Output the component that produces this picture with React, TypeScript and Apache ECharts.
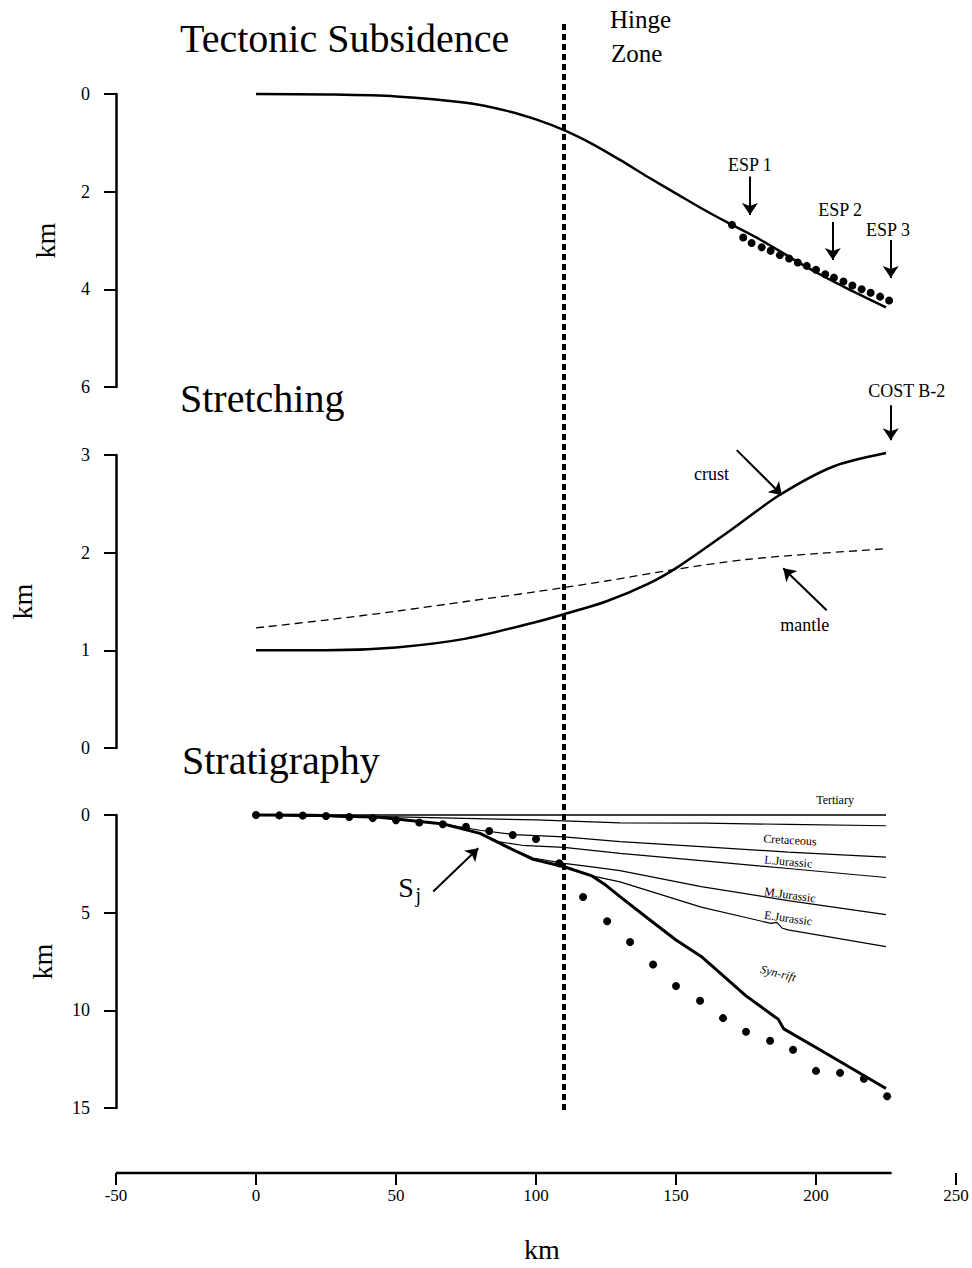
import React, { useEffect, useRef } from "react";
import * as echarts from "echarts";

const FONT = '"Liberation Serif", "Times New Roman", Times, serif';
const INK = "#000";

// ---- shared x axis (km) ----
const xMin = -50;
const xMax = 250;
const xStep = 50;
const xAxisLineExtent: [number, number] = [-50, 227];
const hingeZoneKm = 110;

// ---- Tectonic Subsidence (km) ----
const subsidenceX = [0, 25, 50, 75, 90, 100, 110, 120, 130, 140, 151, 160, 169, 180, 190, 200, 210, 225];
const subsidenceY = [0, 0.01, 0.05, 0.18, 0.35, 0.52, 0.74, 1.02, 1.35, 1.7, 2.07, 2.37, 2.65, 2.98, 3.32, 3.65, 3.95, 4.37];
const espWellX = [170, 174, 177, 180.6, 183.8, 187.1, 190.4, 193.5, 196.7, 200, 203.3, 206.4, 209.8, 213, 216.3, 219.5, 222.9, 226.1];
const espWellY = [2.68, 2.94, 3.05, 3.14, 3.21, 3.3, 3.37, 3.45, 3.52, 3.6, 3.69, 3.76, 3.84, 3.92, 4.0, 4.07, 4.15, 4.23];
const espArrows = [
  [[176.4, 1.69], [176.4, 2.48]],
  [[206, 2.62], [206, 3.4]],
  [[226.7, 2.99], [226.7, 3.77]],
];

// ---- Stretching ----
const crustX = [0, 25, 50, 75, 100, 110, 125, 140, 151, 170, 187, 206, 225];
const crustY = [1.0, 1.0, 1.03, 1.12, 1.29, 1.37, 1.5, 1.68, 1.86, 2.24, 2.59, 2.88, 3.02];
const mantleX = [0, 25, 50, 75, 100, 125, 150, 175, 200, 225];
const mantleY = [1.23, 1.31, 1.4, 1.5, 1.6, 1.71, 1.83, 1.93, 1.99, 2.04];
const stretchArrows = [
  [[226.7, 3.51], [226.7, 3.15]],
  [[171.7, 3.05], [187.8, 2.59]],
  [[203.8, 1.41], [188.3, 1.84]],
];

// ---- Stratigraphy (depth, km) ----
const seaFloor = [[0, 0], [225, 0]];
const tertiaryBase = [[0, 0], [50, 0.1], [100, 0.25], [130, 0.4], [160, 0.42], [190, 0.48], [225, 0.55]];
const cretaceousBase = [[0, 0], [44, 0.12], [67, 0.46], [80, 0.78], [92, 1.0], [110, 1.12], [130, 1.36], [159, 1.62], [190, 1.9], [225, 2.16]];
const lJurassicBase = [[0, 0], [44, 0.12], [67, 0.46], [80, 0.94], [87, 1.38], [95, 1.55], [110, 1.66], [130, 1.96], [159, 2.34], [190, 2.74], [225, 3.2]];
const mJurassicBase = [[0, 0], [44, 0.12], [67, 0.46], [80, 0.94], [89.5, 1.62], [99, 2.2], [110, 2.48], [120, 2.66], [130, 2.85], [159, 3.67], [190, 4.38], [225, 5.1]];
const eJurassicBase = [[0, 0], [44, 0.12], [67, 0.46], [80, 0.94], [89.5, 1.62], [99, 2.27], [110, 2.65], [120, 3.12], [130, 3.42], [159, 4.72], [184, 5.55], [186, 5.5], [188, 5.8], [190, 5.88], [225, 6.74]];
const synRiftBase = [[0, 0], [20, 0.01], [44, 0.12], [67, 0.46], [80, 0.94], [89.5, 1.62], [99, 2.27], [110, 2.65], [120, 3.12], [125, 3.6], [130, 4.18], [140, 5.3], [150, 6.4], [159, 7.24], [175, 9.26], [185, 10.3], [186.5, 10.45], [188.5, 10.95], [200, 11.9], [225, 14.0]];
const sjX = [0, 8.3, 16.7, 25, 33.3, 41.7, 50, 58.3, 66.7, 75, 83.3, 91.7, 100, 108.3, 116.8, 125.4, 133.6, 141.8, 150, 158.6, 166.8, 175, 183.6, 191.8, 200, 208.6, 217.1, 225.4];
const sjY = [0, 0.02, 0.03, 0.05, 0.1, 0.16, 0.27, 0.38, 0.47, 0.6, 0.82, 1.02, 1.23, 2.47, 4.2, 5.44, 6.5, 7.65, 8.75, 9.51, 10.4, 11.1, 11.56, 12.02, 13.1, 13.2, 13.5, 14.4];
const sjArrow = [[[63.3, 3.92], [79.4, 1.7]]];

// ---- axis ranges ----
const panelRanges = [
  { min: 0, max: 6, step: 2, inverse: true },
  { min: 0, max: 3, step: 1, inverse: false },
  { min: 0, max: 15, step: 5, inverse: true },
];

// ---- text ----
const panelTitles = ["Tectonic Subsidence", "Stretching", "Stratigraphy"];
const hingeLabel = ["Hinge", "Zone"];
const annotations = [
  { grid: 0, text: "ESP 1", x: 176.4, y: 1.45, size: 18, rot: 0, italic: false },
  { grid: 0, text: "ESP 2", x: 208.6, y: 2.38, size: 18, rot: 0, italic: false },
  { grid: 0, text: "ESP 3", x: 225.7, y: 2.79, size: 18, rot: 0, italic: false },
  { grid: 1, text: "COST B-2", x: 232.4, y: 3.66, size: 18, rot: 0, italic: false },
  { grid: 1, text: "crust", x: 162.7, y: 2.81, size: 18, rot: 0, italic: false },
  { grid: 1, text: "mantle", x: 196, y: 1.26, size: 18, rot: 0, italic: false },
  { grid: 2, text: "Tertiary", x: 206.8, y: -0.77, size: 12, rot: 0, italic: false },
  { grid: 2, text: "Cretaceous", x: 190.7, y: 1.28, size: 12, rot: -3, italic: false },
  { grid: 2, text: "L.Jurassic", x: 190.1, y: 2.39, size: 12, rot: -5, italic: false },
  { grid: 2, text: "M.Jurassic", x: 190.7, y: 4.09, size: 12, rot: -8, italic: false },
  { grid: 2, text: "E.Jurassic", x: 190.1, y: 5.28, size: 12, rot: -8, italic: false },
  { grid: 2, text: "Syn-rift", x: 186.5, y: 8.1, size: 12, rot: -14, italic: true },
  { grid: 2, text: "S", x: 53.6, y: 3.73, size: 28, rot: 0, italic: false },
  { grid: 2, text: "j", x: 58.0, y: 4.12, size: 20, rot: 0, italic: false },
];

const zip = (xs: number[], ys: number[]) => xs.map((x, i) => [x, ys[i]]);

export default function App() {
  const ref = useRef<HTMLDivElement>(null);

  useEffect(() => {
    document.body.style.margin = "0";
    if (!ref.current) return;
    const chart = echarts.init(ref.current, null, { renderer: "svg" });

    const grids = [
      { left: 116, right: 16, top: 94, height: 293 },
      { left: 116, right: 16, top: 455, height: 293 },
      { left: 116, right: 16, top: 815, height: 293 },
      { left: 116, right: 16, top: 1160, height: 13 },
      { left: 116, right: 16, top: 24, height: 1086 },
    ];

    const labelStyle = { color: INK, fontFamily: FONT, fontSize: 18 };
    const nameGaps = [57, 80, 60];

    const xAxes = grids.map((_, i) => ({
      type: "value",
      gridIndex: i,
      min: xMin,
      max: xMax,
      interval: xStep,
      show: i === 3,
      axisLine: { show: false, onZero: false },
      axisTick: { show: true, inside: false, length: 12, lineStyle: { color: INK, width: 2 } },
      axisLabel: { margin: 14, color: INK, fontFamily: FONT, fontSize: 17 },
      splitLine: { show: false },
      name: i === 3 ? "km" : "",
      nameLocation: "middle",
      nameGap: 62,
      nameTextStyle: { color: INK, fontFamily: FONT, fontSize: 28, padding: [0, 0, 0, 12] },
    }));

    const yAxes: any[] = panelRanges.map((r, i) => ({
      type: "value",
      gridIndex: i,
      min: r.min,
      max: r.max,
      interval: r.step,
      inverse: r.inverse,
      axisLine: { show: true, onZero: false, lineStyle: { color: INK, width: 2.5 } },
      axisTick: { show: true, inside: false, length: 12, lineStyle: { color: INK, width: 2 } },
      axisLabel: { margin: 26, ...labelStyle },
      splitLine: { show: false },
      name: "km",
      nameLocation: "middle",
      nameGap: nameGaps[i],
      nameTextStyle: { color: INK, fontFamily: FONT, fontSize: 28 },
    }));
    yAxes.push({ type: "value", gridIndex: 3, min: 0, max: 1, show: false });
    yAxes.push({ type: "value", gridIndex: 4, min: 0, max: 1, show: false });

    const line = (g: number, data: number[][], width: number, extra: any = {}) => ({
      type: "line",
      xAxisIndex: g,
      yAxisIndex: g,
      data,
      showSymbol: false,
      symbol: "none",
      silent: true,
      clip: false,
      lineStyle: { color: INK, width, ...(extra.lineStyle || {}) },
      smooth: extra.smooth ?? false,
    });
    const dots = (g: number, data: number[][], size: number) => ({
      type: "scatter",
      xAxisIndex: g,
      yAxisIndex: g,
      data,
      symbol: "circle",
      symbolSize: size,
      itemStyle: { color: INK, opacity: 1 },
      silent: true,
      clip: false,
    });
    const arrows = (g: number, segs: number[][][]) => ({
      type: "lines",
      coordinateSystem: "cartesian2d",
      xAxisIndex: g,
      yAxisIndex: g,
      clip: false,
      data: segs.map((c) => ({ coords: c })),
      symbol: ["none", "arrow"],
      symbolSize: 12,
      lineStyle: { color: INK, width: 2, opacity: 1, curveness: 0 },
      silent: true,
    });

    const series: any[] = [
      line(0, zip(subsidenceX, subsidenceY), 2.5, { smooth: 0.3 }),
      dots(0, zip(espWellX, espWellY), 8),
      arrows(0, espArrows),
      line(1, zip(crustX, crustY), 2.5, { smooth: 0.3 }),
      line(1, zip(mantleX, mantleY), 1.3, { smooth: 0.3, lineStyle: { type: [8, 5] } }),
      arrows(1, stretchArrows),
      line(2, seaFloor, 1.3),
      line(2, tertiaryBase, 1.2),
      line(2, cretaceousBase, 1.2),
      line(2, lJurassicBase, 1.2),
      line(2, mJurassicBase, 1.2),
      line(2, eJurassicBase, 1.2),
      line(2, synRiftBase, 3),
      dots(2, zip(sjX, sjY), 8),
      arrows(2, sjArrow),
      line(3, [[xAxisLineExtent[0], 0], [xAxisLineExtent[1], 0]], 2.5),
      line(4, [[hingeZoneKm, 0], [hingeZoneKm, 1]], 4, { lineStyle: { type: [6, 4] } }),
    ];

    chart.setOption({
      animation: false,
      backgroundColor: "#fff",
      grid: grids,
      xAxis: xAxes,
      yAxis: yAxes,
      series,
    });

    const txt = (text: string, x: number, y: number, size: number, align: string, rot = 0, italic = false) => ({
      type: "text",
      x,
      y,
      rotation: (rot * Math.PI) / 180,
      silent: true,
      z: 100,
      style: {
        text,
        fill: INK,
        font: `${italic ? "italic " : ""}${size}px ${FONT}`,
        textAlign: align,
        align,
        textVerticalAlign: "middle",
        verticalAlign: "middle",
      },
    });

    const titlePos = [
      [180, 38],
      [180, 398],
      [182, 760],
    ];
    const graphics: any[] = panelTitles.map((t, i) => txt(t, titlePos[i][0], titlePos[i][1], 40, "left"));
    graphics.push(txt(hingeLabel[0], 610, 19, 25, "left"));
    graphics.push(txt(hingeLabel[1], 611, 53, 25, "left"));
    annotations.forEach((a) => {
      const p = chart.convertToPixel({ gridIndex: a.grid } as any, [a.x, a.y]) as number[];
      graphics.push(txt(a.text, p[0], p[1], a.size, "center", a.rot, a.italic));
    });

    chart.setOption({ graphic: graphics });

    return () => chart.dispose();
  }, []);

  return <div ref={ref} style={{ width: 972, height: 1268, background: "#fff" }} />;
}
